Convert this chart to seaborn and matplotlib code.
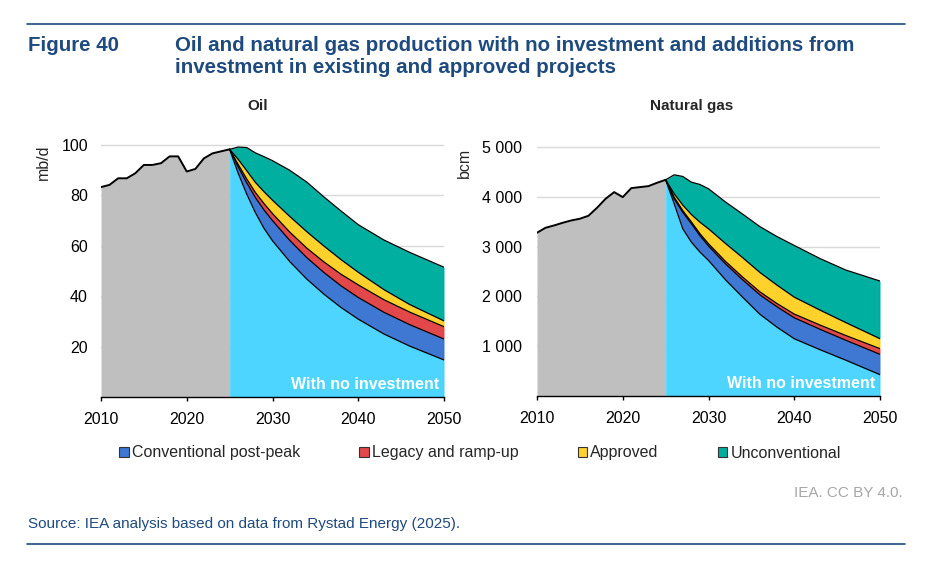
import numpy as np
import pandas as pd
import seaborn as sns
import matplotlib.pyplot as plt
from matplotlib.patches import Patch

# historical production
years_hist = list(range(2010, 2026))
oil_hist = [83.3, 84.2, 86.8, 86.8, 88.8, 92.1, 92.1, 92.8, 95.5, 95.5,
            89.5, 90.5, 94.7, 96.7, 97.5, 98.3]
gas_hist = [3278, 3378, 3425, 3478, 3525, 3559, 3619, 3779, 3960, 4094,
            3993, 4174, 4194, 4214, 4281, 4341]

# projections, band thickness of each layer
years_proj = [2025, 2026, 2027, 2028, 2029, 2030, 2032, 2034, 2036, 2038,
              2040, 2043, 2046, 2050]

oil_noinv = [98.3, 88.8, 80.5, 73.2, 67.0, 62.0, 53.8, 46.8, 40.8, 35.5,
             30.9, 25.0, 20.2, 14.7]
oil_conv = [0, 2.5, 4.5, 6.0, 7.3, 8.0, 8.4, 8.5, 8.6, 8.6, 8.6, 8.6, 8.5, 8.3]
oil_legacy = [0, 1.0, 1.5, 2.0, 2.5, 2.8, 3.3, 3.8, 4.2, 4.6, 5.0, 5.0, 5.0, 4.9]
oil_approved = [0, 2.0, 3.3, 4.0, 4.7, 5.3, 6.2, 6.5, 6.3, 5.8, 5.0, 4.0, 3.0, 2.3]
oil_unconv = [0, 4.9, 9.2, 11.7, 13.9, 15.7, 18.3, 19.7, 19.5, 19.3, 18.9,
              19.7, 20.7, 21.3]

gas_noinv = [4341, 3860, 3358, 3090, 2890, 2722, 2330, 1980, 1640, 1380,
             1150, 930, 720, 428]
gas_conv = [0, 100, 330, 370, 330, 290, 320, 350, 390, 410, 420, 410, 400, 408]
gas_legacy = [0, 30, 35, 35, 40, 45, 50, 55, 60, 65, 75, 85, 95, 115]
gas_approved = [0, 70, 110, 150, 230, 300, 360, 390, 390, 370, 340, 300, 260, 200]
gas_unconv = [0, 381, 575, 649, 757, 804, 833, 875, 920, 975, 1038, 1035,
              1055, 1157]

layer_names = ["Conventional post-peak", "Legacy and ramp-up", "Approved",
               "Unconventional"]
layer_colors = ["#3E78D2", "#E2474A", "#FFD12B", "#00AFA0"]
noinv_color = "#4DD4FF"
hist_color = "#BFBFBF"
blue_txt = "#1F4A7E"

oil_ticks = [20, 40, 60, 80, 100]
oil_ticklabels = ["20", "40", "60", "80", "100"]
gas_ticks = [1000, 2000, 3000, 4000, 5000]
gas_ticklabels = ["1 000", "2 000", "3 000", "4 000", "5 000"]

sns.set_theme(style="white")
plt.rcParams["font.family"] = ["Liberation Sans", "DejaVu Sans"]


def draw_panel(ax, hist, noinv, layers, ymax, ticks, ticklabels, ypad):
    ax.set_axisbelow(True)
    ax.grid(axis="y", color="#D9D9D9", lw=1)
    ax.fill_between(years_hist, 0, hist, color=hist_color, lw=0)
    hist_df = pd.DataFrame({"year": years_hist, "value": hist})
    sns.lineplot(data=hist_df, x="year", y="value", ax=ax, color="black",
                 lw=1.4)

    base = np.array(noinv, dtype=float)
    ax.fill_between(years_proj, 0, base, color=noinv_color, lw=0)
    tops = [base.copy()]
    for vals, col in zip(layers, layer_colors):
        top = base + np.array(vals, dtype=float)
        ax.fill_between(years_proj, base, top, color=col, lw=0)
        tops.append(top)
        base = top
    for top in tops:
        ax.plot(years_proj, top, color="black", lw=0.9)
    ax.vlines(years_proj[-1], 0, tops[-1][-1], color="#404040", lw=0.8)

    ax.set_xlim(2010, 2050)
    ax.set_ylim(0, ymax)
    ax.set_xticks([2010, 2020, 2030, 2040, 2050])
    ax.set_yticks(ticks)
    ax.set_yticklabels(ticklabels)
    ax.set_xlabel("")
    ax.set_ylabel("")
    for s in ["top", "right", "left"]:
        ax.spines[s].set_visible(False)
    ax.spines["bottom"].set_color("black")
    ax.spines["bottom"].set_linewidth(1)
    ax.tick_params(axis="x", bottom=True, direction="out", length=3,
                   width=1, color="black", pad=7.5, labelsize=11.5,
                   labelcolor="black")
    ax.tick_params(axis="y", left=False, length=0, pad=ypad, labelsize=11.5,
                   labelcolor="black")
    ax.text(0.985, 0.03, "With no investment", transform=ax.transAxes,
            ha="right", va="baseline", color="white", fontsize=11.5,
            fontweight="bold")


fig = plt.figure(figsize=(9.4, 5.67), dpi=100)
ax1 = fig.add_axes([101 / 940, 170 / 567, 343 / 940, 257 / 567])
ax2 = fig.add_axes([537 / 940, 171 / 567, 343 / 940, 254 / 567])

draw_panel(ax1, oil_hist, oil_noinv,
           [oil_conv, oil_legacy, oil_approved, oil_unconv],
           102, oil_ticks, oil_ticklabels, 9.4)
draw_panel(ax2, gas_hist, gas_noinv,
           [gas_conv, gas_legacy, gas_approved, gas_unconv],
           5100, gas_ticks, gas_ticklabels, 10.8)

fig.text(43 / 940, 1 - 145 / 567, "mb/d", rotation=90, ha="center",
         va="top", fontsize=11.5)
fig.text(464 / 940, 1 - 148 / 567, "bcm", rotation=90, ha="center",
         va="top", fontsize=11.5)

fig.text(258 / 940, 1 - 110 / 567, "Oil", ha="center", va="baseline",
         fontsize=11, fontweight="bold")
fig.text(692 / 940, 1 - 110 / 567, "Natural gas", ha="center",
         va="baseline", fontsize=11, fontweight="bold")

# header
fig.add_artist(plt.Line2D([27 / 940, 905 / 940], [1 - 24 / 567, 1 - 24 / 567],
                          color=blue_txt, lw=1.2))
fig.text(28 / 940, 1 - 50.7 / 567, "Figure 40", ha="left", va="baseline",
         fontsize=14.8, fontweight="bold", color=blue_txt)
fig.text(175 / 940, 1 - 50.7 / 567,
         "Oil and natural gas production with no investment and additions from",
         ha="left", va="baseline", fontsize=14.8, fontweight="bold",
         color=blue_txt)
fig.text(175 / 940, 1 - 73.3 / 567,
         "investment in existing and approved projects",
         ha="left", va="baseline", fontsize=14.8, fontweight="bold",
         color=blue_txt)

# legend
handles = [Patch(facecolor=c, edgecolor="#333333", lw=0.8) for c in layer_colors]
fig.legend(handles, layer_names, loc="center", ncol=4,
           bbox_to_anchor=(480 / 940, 1 - 453 / 567), frameon=False,
           fontsize=11.5, handlelength=0.6, handleheight=0.6,
           handletextpad=0.2, columnspacing=3.7)

# footer
fig.text(903 / 940, 1 - 497 / 567, "IEA. CC BY 4.0.", ha="right",
         va="baseline", fontsize=11, color="#A6A6A6")
fig.text(28 / 940, 1 - 527.7 / 567,
         "Source: IEA analysis based on data from Rystad Energy (2025).",
         ha="left", va="baseline", fontsize=11, color=blue_txt)
fig.add_artist(plt.Line2D([27 / 940, 905 / 940], [1 - 544 / 567, 1 - 544 / 567],
                          color=blue_txt, lw=1.2))

fig.savefig("out.png", dpi=100)
